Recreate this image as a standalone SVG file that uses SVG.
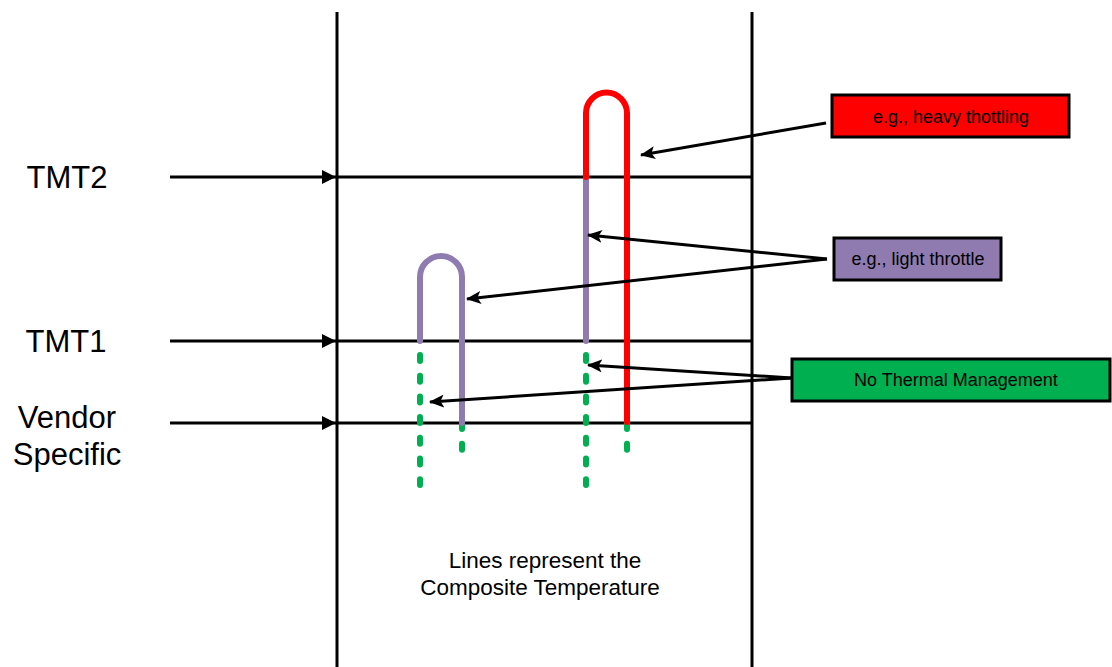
<svg xmlns="http://www.w3.org/2000/svg" width="1112" height="667" viewBox="0 0 1112 667">
<style>
  .ax{stroke:#000;stroke-width:3;fill:none}
  .ptr{stroke:#000;stroke-width:3;fill:none;marker-end:url(#ah)}
  .lbl{font-family:"Liberation Sans",Arial,sans-serif;font-size:31px;fill:#000;text-anchor:middle}
  .box{stroke:#000;stroke-width:3}
  .bt{font-family:"Liberation Sans",Arial,sans-serif;font-size:18px;fill:#000;text-anchor:middle}
  .note{font-family:"Liberation Sans",Arial,sans-serif;font-size:22.5px;fill:#000;text-anchor:middle}
  .purple{stroke:#8F7BB0;stroke-width:6;fill:none;stroke-linecap:round}
  .red{stroke:#FF0000;stroke-width:6;fill:none;stroke-linecap:round}
  .green{stroke:#00B050;stroke-width:6;fill:none;stroke-linecap:round;stroke-dasharray:6 14.7}
</style>
<defs>
  <marker id="ah" markerUnits="userSpaceOnUse" markerWidth="15" markerHeight="13" viewBox="0 0 15 13" refX="14" refY="6.5" orient="auto">
    <path d="M0,0 L15,6.5 L0,13 L3.5,6.5 z" fill="#000"/>
  </marker>
  <marker id="lh" markerUnits="userSpaceOnUse" markerWidth="14" markerHeight="14" viewBox="0 0 14 14" refX="14" refY="7" orient="auto">
    <path d="M0,0 L14,7 L0,14 z" fill="#000"/>
  </marker>
</defs>
<rect width="1112" height="667" fill="#fff"/>

<g id="axes">
  <line class="ax" x1="337" y1="12" x2="337" y2="667"/>
  <line class="ax" x1="752" y1="12" x2="752" y2="667"/>
  <line class="ax" x1="337" y1="177" x2="752" y2="177"/>
  <line class="ax" x1="337" y1="341" x2="752" y2="341"/>
  <line class="ax" x1="337" y1="423" x2="752" y2="423"/>
</g>

<g id="level-tmt2">
  <text class="lbl" x="67" y="188">TMT2</text>
</g>
<g id="level-tmt1">
  <text class="lbl" x="66" y="352">TMT1</text>
</g>
<g id="level-vendor">
  <text class="lbl" x="67" y="428">Vendor</text>
  <text class="lbl" x="67" y="465">Specific</text>
</g>

<g id="traces">
  <path class="green" d="M420,355 L420,485"/>
  <path class="green" d="M462,423 L462,450"/>
  <path class="green" d="M586,355 L586,485"/>
  <path class="green" d="M627,423 L627,450"/>
  <path class="purple" d="M420,341 L420,277 A21,21 0 0 1 462,277 L462,423"/>
  <path class="purple" d="M586,177 L586,341"/>
  <path class="red" d="M586,177 L586,113 A20.5,20.5 0 0 1 627,113 L627,422"/>
</g>

<g id="box-heavy">
  <rect class="box" x="832" y="95" width="237" height="42" fill="#FF0000"/>
  <text class="bt" x="951" y="123">e.g., heavy thottling</text>
</g>
<g id="box-light">
  <rect class="box" x="834" y="238" width="167" height="42" fill="#8F7BB0"/>
  <text class="bt" x="918" y="265">e.g., light throttle</text>
</g>
<g id="box-none">
  <rect class="box" x="792" y="359" width="318" height="42" fill="#00B050"/>
  <text class="bt" x="956" y="386">No Thermal Management</text>
</g>

<g id="note">
  <text class="note" x="545" y="568">Lines represent the</text>
  <text class="note" x="540" y="595">Composite Temperature</text>
</g>

<g id="connectors">
  <line class="ax" x1="170" y1="177" x2="336" y2="177" marker-end="url(#lh)"/>
  <line class="ax" x1="170" y1="341" x2="336" y2="341" marker-end="url(#lh)"/>
  <line class="ax" x1="170" y1="423" x2="336" y2="423" marker-end="url(#lh)"/>
  <line class="ptr" x1="826" y1="123" x2="641" y2="155"/>
  <line class="ptr" x1="827" y1="259" x2="588" y2="235"/>
  <line class="ptr" x1="827" y1="259" x2="467" y2="299"/>
  <line class="ptr" x1="792" y1="378" x2="588" y2="365"/>
  <line class="ptr" x1="792" y1="378" x2="430" y2="402"/>
</g>
</svg>
